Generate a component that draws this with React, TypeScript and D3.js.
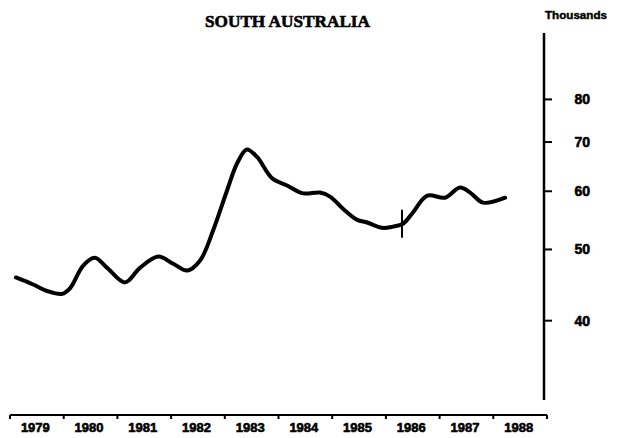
import React from "react";
import * as d3 from "d3";

const title = "SOUTH AUSTRALIA";
const unitLabel = "Thousands";
const yearLabels = ["1979", "1980", "1981", "1982", "1983", "1984", "1985", "1986", "1987", "1988"];
const yTicks = [40, 50, 60, 70, 80];

// decimal-year dates and values (thousands)
const dates = [
  1979.11, 1979.43, 1979.69, 1979.97, 1980.12, 1980.36, 1980.58, 1980.81, 1981.14, 1981.42,
  1981.76, 1982.04, 1982.30, 1982.54, 1982.78, 1983.04, 1983.23, 1983.41, 1983.60, 1983.88,
  1984.16, 1984.46, 1984.77, 1984.96, 1985.20, 1985.46, 1985.65, 1985.93, 1986.13, 1986.32,
  1986.50, 1986.77, 1987.10, 1987.38, 1987.57, 1987.81, 1988.22,
];
const values = [
  45.8, 44.8, 43.9, 43.5, 44.3, 47.5, 48.7, 47.2, 45.1, 47.2,
  48.9, 47.8, 46.8, 48.3, 53.0, 60.1, 65.5, 68.4, 66.8, 62.5,
  61.1, 59.6, 59.75, 59.0, 56.8, 54.9, 54.4, 53.5, 53.7, 54.2,
  56.1, 59.2, 58.8, 60.7, 59.75, 57.9, 58.8,
];
const markerDate = 1986.3;
const markerValue = 54.2;

export default function App() {
  const W = 619;
  const H = 438;
  const x = d3.scaleLinear().domain([1979, 1989]).range([10, 547]);
  const y = d3.scaleLog().domain([31.2, 98.5]).range([400, 33]);
  const axisX = 544;
  const axisY = 415;

  const pts: [number, number][] = dates.map((d, i) => [x(d), y(values[i])]);
  const line = d3.line<[number, number]>().x((p) => p[0]).y((p) => p[1]).curve(d3.curveCatmullRom.alpha(0.5));
  const path = line(pts) || "";

  const yearTicks = d3.range(1979, 1990);
  const font = "'Liberation Sans', Arial, sans-serif";
  const heavy = { stroke: "#000", strokeWidth: 0.6 };

  return (
    <svg width={W} height={H} style={{ position: "absolute", left: 0, top: 0, background: "#fff" }}>
      <rect x={0} y={0} width={W} height={H} fill="#fff" />
      <text x={287.5} y={27} textAnchor="middle" fontFamily="'Liberation Serif', 'DejaVu Serif', serif" fontWeight="bold" fontSize={17} textLength={165} lengthAdjust="spacingAndGlyphs" fill="#000" {...heavy}>
        {title}
      </text>
      <text x={545} y={19} fontFamily={font} fontWeight="bold" fontSize={10} textLength={62} lengthAdjust="spacingAndGlyphs" fill="#000" stroke="#000" strokeWidth={0.4}>
        {unitLabel}
      </text>

      {/* right axis */}
      <line x1={axisX} x2={axisX} y1={33} y2={400} stroke="#000" strokeWidth={2.5} />
      {yTicks.map((t) => (
        <g key={t}>
          <line x1={axisX} x2={axisX + 8} y1={y(t)} y2={y(t)} stroke="#000" strokeWidth={2} />
          <text x={590} y={y(t) + 5} textAnchor="end" fontFamily={font} fontWeight="bold" fontSize={14} fill="#000" {...heavy}>
            {t}
          </text>
        </g>
      ))}

      {/* bottom axis */}
      <line x1={x(1979)} x2={x(1989)} y1={axisY} y2={axisY} stroke="#000" strokeWidth={2} />
      {yearTicks.map((t) => (
        <line key={t} x1={x(t)} x2={x(t)} y1={axisY} y2={axisY + 4} stroke="#000" strokeWidth={2} />
      ))}
      {yearLabels.map((lab, i) => (
        <text key={lab} x={x(1979 + i + 0.5) - 1.5} y={432} textAnchor="middle" fontFamily={font} fontWeight="bold" fontSize={13} fill="#000" {...heavy}>
          {lab}
        </text>
      ))}

      {/* series */}
      <path d={path} fill="none" stroke="#000" strokeWidth={4} strokeLinejoin="round" strokeLinecap="round" />
      <line x1={x(markerDate)} x2={x(markerDate)} y1={y(markerValue) - 14} y2={y(markerValue) + 14} stroke="#000" strokeWidth={2} />
    </svg>
  );
}
